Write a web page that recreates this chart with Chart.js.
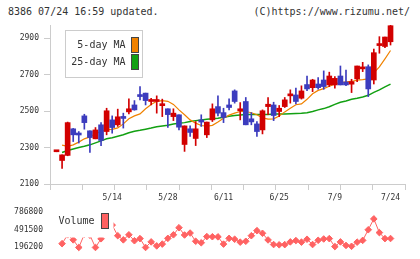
<!DOCTYPE html>
<html>
<head>
<meta charset="utf-8">
<script src="https://cdn.jsdelivr.net/npm/chart.js@4.4.1/dist/chart.umd.min.js"></script>
<style>
  body { margin: 0; background: #fff; }
  #wrap { position: relative; width: 420px; height: 259px; overflow: hidden;
          font-family: 'DejaVu Sans Mono', monospace; color: #333; }
  .head { position: absolute; top: 5px; font-size: 10px; line-height: 14px; white-space: pre; }
  #price { position: absolute; left: 0; top: 0; }
  #vol { position: absolute; left: 0; top: 200px; }
</style>
</head>
<body>
<div id="wrap">
  <div class="head" style="left:8px">8386 07/24 16:59 updated.</div>
  <div class="head" style="right:10px">(C)https://www.rizumu.net/</div>
  <canvas id="price" width="420" height="205"></canvas>
  <canvas id="vol" width="420" height="59"></canvas>
</div>
<script>
// trading days shown on the chart
const days = ['4/25','4/26','4/30','5/1','5/2','5/7','5/8','5/9','5/10','5/13',
  '5/14','5/15','5/16','5/17','5/20','5/21','5/22','5/23','5/24','5/27',
  '5/28','5/29','5/30','5/31','6/3','6/4','6/5','6/6','6/7','6/10',
  '6/11','6/12','6/13','6/14','6/17','6/18','6/19','6/20','6/21','6/24',
  '6/25','6/26','6/27','6/28','7/1','7/2','7/3','7/4','7/5','7/8',
  '7/9','7/10','7/11','7/12','7/16','7/17','7/18','7/19','7/22','7/23','7/24'];

const open = [2277, 2229, 2257, 2403, 2380, 2474, 2392, 2348, 2425, 2388,
  2452, 2425, 2469, 2496, 2534, 2591, 2599, 2553, 2553, 2530,
  2513, 2470, 2480, 2317, 2403, 2350, 2452, 2370, 2452, 2525,
  2492, 2534, 2611, 2502, 2553, 2458, 2430, 2397, 2525, 2534,
  2498, 2525, 2584, 2589, 2571, 2646, 2629, 2649, 2671, 2644,
  2644, 2693, 2660, 2648, 2677, 2732, 2744, 2671, 2860, 2855, 2881];
const high = [2277, 2260, 2440, 2405, 2388, 2483, 2392, 2410, 2437, 2516,
  2474, 2511, 2489, 2567, 2558, 2635, 2599, 2571, 2584, 2566,
  2513, 2513, 2480, 2419, 2419, 2443, 2480, 2440, 2540, 2584,
  2516, 2567, 2617, 2547, 2575, 2492, 2443, 2507, 2575, 2549,
  2531, 2575, 2617, 2626, 2639, 2693, 2675, 2684, 2721, 2714,
  2690, 2748, 2726, 2675, 2748, 2768, 2754, 2841, 2909, 2907, 2973];
const low = [2277, 2186, 2255, 2333, 2325, 2401, 2273, 2348, 2311, 2370,
  2379, 2416, 2407, 2485, 2505, 2562, 2534, 2534, 2489, 2470,
  2410, 2448, 2397, 2279, 2361, 2311, 2416, 2355, 2443, 2474,
  2437, 2507, 2544, 2452, 2425, 2425, 2361, 2375, 2480, 2448,
  2470, 2520, 2544, 2540, 2566, 2613, 2607, 2620, 2620, 2635,
  2626, 2644, 2640, 2602, 2662, 2717, 2580, 2649, 2818, 2848, 2863];
const close = [2277, 2260, 2437, 2370, 2369, 2437, 2355, 2397, 2339, 2502,
  2410, 2469, 2460, 2513, 2507, 2580, 2558, 2562, 2562, 2536,
  2481, 2489, 2412, 2419, 2383, 2403, 2440, 2440, 2513, 2489,
  2465, 2520, 2553, 2513, 2425, 2441, 2388, 2502, 2538, 2476,
  2516, 2562, 2593, 2553, 2611, 2622, 2671, 2629, 2635, 2693,
  2680, 2644, 2644, 2662, 2748, 2741, 2622, 2821, 2865, 2907, 2969];

const ma5 = [null, 2313, 2307, 2315, 2330, 2348, 2359, 2376, 2389, 2398,
  2400, 2408, 2430, 2458, 2474, 2485, 2513, 2537, 2554, 2558,
  2554, 2537, 2507, 2480, 2452, 2434, 2421, 2417, 2422, 2441,
  2461, 2478, 2489, 2498, 2498, 2491, 2480, 2463, 2456, 2458,
  2473, 2496, 2516, 2535, 2540, 2565, 2595, 2614, 2624, 2637,
  2648, 2657, 2661, 2663, 2670, 2673, 2677, 2710, 2743, 2787, 2833];
const ma25 = [null, 2273, 2284, 2292, 2300, 2307, 2315, 2326, 2337, 2348,
  2354, 2362, 2370, 2381, 2390, 2395, 2401, 2407, 2414, 2419,
  2423, 2430, 2434, 2437, 2443, 2448, 2452, 2455, 2458, 2461,
  2466, 2472, 2476, 2479, 2482, 2482, 2482, 2482, 2482, 2484,
  2485, 2485, 2486, 2487, 2488, 2491, 2498, 2507, 2514, 2524,
  2537, 2549, 2556, 2565, 2571, 2578, 2587, 2603, 2617, 2633, 2648];

const volume = [null, 255300, 402900, 318800, 191800, 410000, 395000, 192000, 336500, 506000,
  565000, 388100, 318800, 402900, 304000, 339400, 191800, 284800, 218300, 247900,
  343900, 403000, 521000, 400000, 432400, 295100, 270000, 373400, 371000, 369000,
  247900, 343900, 329100, 280400, 295100, 388100, 472300, 428000, 317300, 240500,
  236100, 239000, 284800, 306900, 280400, 329100, 240500, 311400, 333500, 339400,
  206500, 284800, 225700, 211000, 280400, 309900, 487100, 668700, 439800, 339400, 341000];

const priceTicks = [2100, 2300, 2500, 2700, 2900];
const volumeTicks = [196200, 491500, 786800];
const labelDays = ['5/14', '5/28', '6/11', '6/25', '7/9', '7/24'];

const UP = '#d20000';
const DOWN = '#3c3cbe';
const ORANGE = '#f08200';
const GREEN = '#12a012';
const VOL = '#ff6262';
const AXIS = '#cccccc';
const TEXT = '#333333';
const FONT = "'DejaVu Sans Mono', monospace";

const X_MIN = -1.17;
const X_MAX = 62.6;

Chart.defaults.font.family = FONT;
Chart.defaults.color = TEXT;

const xy = arr => arr.map((v, i) => ({ x: i, y: v }));
const candleColor = days.map((d, i) => close[i] >= open[i] ? UP : DOWN);
const labelIdx = labelDays.map(d => days.indexOf(d));

// x ticks: 11 even divisions for the marks, plus the date positions for labels
function buildXTicks(scale) {
  const step = (X_MAX - X_MIN) / 11;
  const ticks = [];
  for (let k = 0; k <= 11; k++) ticks.push({ value: X_MIN + k * step });
  labelIdx.forEach(i => ticks.push({ value: i }));
  scale.ticks = ticks.sort((a, b) => a.value - b.value);
}

const priceLegend = {
  id: 'priceLegend',
  afterDraw(chart) {
    const ctx = chart.ctx;
    const items = chart.data.datasets.filter(ds => ds.type === 'line');
    ctx.save();
    ctx.fillStyle = '#fff';
    ctx.fillRect(66, 31, 76, 46);
    ctx.strokeStyle = AXIS;
    ctx.lineWidth = 1;
    ctx.strokeRect(65.5, 30.5, 77, 47);
    ctx.font = '10px ' + FONT;
    ctx.textAlign = 'right';
    ctx.textBaseline = 'middle';
    items.forEach((ds, k) => {
      const y = 45 + k * 17;
      ctx.fillStyle = TEXT;
      ctx.fillText(ds.label, 125.5, y);
      ctx.fillStyle = ds.borderColor;
      ctx.fillRect(131.5, y - 7.5, 7, 15);
      ctx.strokeStyle = '#444';
      ctx.strokeRect(131.5, y - 7.5, 7, 15);
    });
    ctx.restore();
  }
};

const volLegend = {
  id: 'volLegend',
  afterDraw(chart) {
    const ctx = chart.ctx;
    const ds = chart.data.datasets[0];
    ctx.save();
    ctx.fillStyle = '#fff';
    ctx.fillRect(55, 5, 58.5, 32.5);
    ctx.font = '10px ' + FONT;
    ctx.textAlign = 'left';
    ctx.textBaseline = 'middle';
    ctx.fillStyle = TEXT;
    ctx.fillText(ds.label, 58.5, 21);
    ctx.fillStyle = ds.borderColor;
    ctx.fillRect(101.5, 13.5, 7, 15);
    ctx.strokeStyle = '#444';
    ctx.strokeRect(101.5, 13.5, 7, 15);
    ctx.restore();
  }
};

new Chart(document.getElementById('price'), {
  type: 'bar',
  data: {
    datasets: [
      {
        type: 'line', label: '5-day MA', data: xy(ma5),
        borderColor: ORANGE, borderWidth: 1.2, pointRadius: 0, order: 2,
      },
      {
        type: 'line', label: '25-day MA', data: xy(ma25),
        borderColor: GREEN, borderWidth: 1.5, pointRadius: 0, order: 2,
      },
      {
        label: 'wick', data: days.map((d, i) => ({ x: i, y: [low[i], high[i]] })),
        backgroundColor: candleColor, barThickness: 1, grouped: false, order: 1,
      },
      {
        label: 'body', data: days.map((d, i) => ({ x: i, y: [open[i], close[i]] })),
        backgroundColor: candleColor, barThickness: 5, minBarLength: 2,
        grouped: false, order: 0,
      },
    ],
  },
  options: {
    responsive: false,
    animation: false,
    events: [],
    layout: { padding: { left: 0, right: 15, top: 25, bottom: 0 } },
    scales: {
      x: {
        type: 'linear', min: X_MIN, max: X_MAX, offset: false,
        afterBuildTicks: buildXTicks,
        afterFit(scale) { scale.height = 21; },
        border: { color: AXIS, width: 1 },
        grid: {
          offset: false, drawOnChartArea: false, tickLength: 6, color: AXIS,
          tickColor: ctx => (ctx.tick && labelIdx.includes(ctx.tick.value)) ? 'rgba(0,0,0,0)' : AXIS,
        },
        ticks: {
          autoSkip: false, maxRotation: 0, minRotation: 0, padding: 3,
          font: { size: 8 }, color: TEXT,
          callback: v => labelIdx.includes(v) ? days[v] : '',
        },
      },
      y: {
        min: 2100, max: 2973,
        afterBuildTicks(scale) { scale.ticks = priceTicks.map(v => ({ value: v })); },
        afterFit(scale) { scale.width = 50; },
        border: { color: AXIS, width: 1 },
        grid: { drawOnChartArea: false, tickLength: 6, color: AXIS },
        ticks: { padding: 5, font: { size: 8 }, color: TEXT, callback: v => String(v) },
      },
    },
    plugins: { legend: { display: false }, tooltip: { enabled: false } },
  },
  plugins: [priceLegend],
});

new Chart(document.getElementById('vol'), {
  type: 'line',
  data: {
    datasets: [{
      label: 'Volume', data: xy(volume),
      borderColor: VOL, backgroundColor: VOL, borderWidth: 1,
      pointStyle: 'rectRot', pointRadius: 3.3, pointBorderWidth: 1,
      pointBackgroundColor: VOL, pointBorderColor: VOL, clip: false,
    }],
  },
  options: {
    responsive: false,
    animation: false,
    events: [],
    layout: { padding: { left: 0, right: 15, top: 9, bottom: 10 } },
    scales: {
      x: { type: 'linear', min: X_MIN, max: X_MAX, display: false },
      y: {
        min: 196200, max: 786800,
        afterBuildTicks(scale) { scale.ticks = volumeTicks.map(v => ({ value: v })); },
        afterFit(scale) { scale.width = 50; },
        border: { display: false },
        grid: { display: false, drawTicks: false },
        ticks: { padding: 7, font: { size: 8 }, color: TEXT, callback: v => String(v) },
      },
    },
    plugins: { legend: { display: false }, tooltip: { enabled: false } },
  },
  plugins: [volLegend],
});
</script>
</body>
</html>
